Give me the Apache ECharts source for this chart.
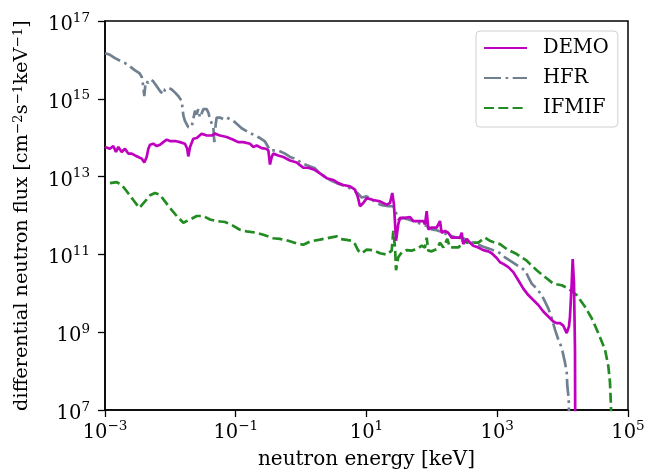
<!DOCTYPE html>
<html>
<head>
<meta charset="utf-8">
<script src="https://cdn.jsdelivr.net/npm/echarts@6/dist/echarts.min.js"></script>
<style>html,body{margin:0;padding:0;background:#fff}#c{width:663px;height:475px}</style>
</head>
<body>
<div id="c"></div>
<script>
const seriesNames = ['DEMO', 'HFR', 'IFMIF'];
const xTicks = [1e-3, 1e-1, 1e1, 1e3, 1e5];
const yTicks = [1e7, 1e9, 1e11, 1e13, 1e15, 1e17];

const demoE = [1e-3,1.19e-3,1.34e-3,1.47e-3,1.60e-3,1.80e-3,2.02e-3,2.27e-3,2.56e-3,2.88e-3,
  3.23e-3,3.64e-3,3.99e-3,4.34e-3,4.60e-3,4.88e-3,5.48e-3,6.18e-3,6.94e-3,7.79e-3,
  8.79e-3,9.87e-3,1.18e-2,1.40e-2,1.67e-2,1.81e-2,1.88e-2,2.00e-2,2.24e-2,2.53e-2,
  3.01e-2,3.59e-2,4.29e-2,4.82e-2,5.74e-2,7.27e-2,9.17e-2,0.109,0.130,0.165,
  0.186,0.209,0.249,0.290,0.315,0.334,0.355,0.375,0.447,0.534,
  0.676,0.855,0.961,1.08,1.29,1.63,1.94,2.46,3.10,3.70,
  4.42,5.59,6.67,7.33,7.95,8.93,10.07,12.7,16.1,20.4,
  22.9,24.8,26.3,28.3,30.6,32.5,38.8,46.3,52.0,62.0,
  73.9,78.5,83.3,88.2,99.4,118.5,133,141,159,178,
  201,226,269,286,302,341,383,430,513,612,
  730,823,981,1102,1237,1476,1760,2099,2503,2985,
  3559,4245,5061,6037,7199,8117,9119,10243,11547,12515,
  12959,13763,14256,14924,15458,15700];
const demoF = [5.8e13,5.2e13,6.1e13,4.3e13,5.8e13,4.3e13,5.2e13,3.9e13,3.9e13,3.5e13,
  3.2e13,2.9e13,2.3e13,3.2e13,5.2e13,6.6e13,7.0e13,6.1e13,6.6e13,7.7e13,
  8.9e13,8.2e13,8.2e13,7.7e13,7.0e13,5.2e13,3.3e13,5.8e13,9.4e13,9.8e13,
  1.26e14,1.14e14,1.14e14,1.26e14,1.14e14,1.04e14,8.9e13,7.7e13,7.7e13,7.0e13,
  5.8e13,6.3e13,5.4e13,5.2e13,4.7e13,2.05e13,3.2e13,3.9e13,3.5e13,3.2e13,
  2.6e13,2.3e13,1.97e13,1.69e13,1.69e13,1.47e13,1.21e13,9.1e12,8.2e12,6.8e12,
  6.1e12,5.6e12,4.6e12,3.1e12,1.73e12,2.1e12,2.8e12,2.5e12,2.3e12,1.90e12,
  2.1e12,3.8e12,1.90e12,2.24e11,5.9e11,8.7e11,8.7e11,9.1e11,7.2e11,7.2e11,
  7.2e11,5.9e11,1.29e12,4.4e11,4.9e11,4.9e11,7.2e11,3.6e11,4.0e11,3.6e11,
  2.7e11,2.7e11,2.7e11,3.6e11,1.84e11,2.5e11,2.0e11,1.67e11,1.51e11,1.29e11,
  1.20e11,1.07e11,8.1e10,6.3e10,5.7e10,4.7e10,3.5e10,2.16e10,1.32e10,9.0e9,
  6.7e9,5.0e9,3.4e9,2.53e9,1.89e9,1.71e9,1.71e9,1.47e9,9.5e8,1.41e9,
  2.53e9,1.77e10,7.6e10,1.77e10,3.6e8,1e5];

const hfrE = [1e-3,1.19e-3,1.42e-3,1.70e-3,2.02e-3,2.41e-3,2.88e-3,3.35e-3,3.64e-3,3.85e-3,
  3.99e-3,4.19e-3,4.60e-3,5.00e-3,5.48e-3,6.18e-3,6.94e-3,7.79e-3,8.27e-3,9.29e-3,
  1.05e-2,1.18e-2,1.32e-2,1.49e-2,1.58e-2,1.67e-2,1.88e-2,2.12e-2,2.24e-2,2.38e-2,
  2.53e-2,2.67e-2,2.84e-2,3.19e-2,3.59e-2,3.80e-2,4.04e-2,4.29e-2,4.54e-2,4.70e-2,
  4.94e-2,5.11e-2,5.74e-2,6.45e-2,7.27e-2,8.17e-2,9.74e-2,0.123,0.156,0.197,
  0.235,0.280,0.304,0.334,0.375,0.447,0.567,0.676,0.855,1.02,
  1.29,1.63,1.94,2.32,2.77,3.50,4.42,5.59,6.67,7.49,
  8.44,10.07,11.3,14.3,17.1,21.5,25.7,28.3,30.6,36.5,
  43.6,52.0,65.8,83.3,99.4,118.5,150,189,240,302,
  383,485,612,774,981,1102,1314,1567,1869,2228,
  2657,2985,3365,4013,4786,5375,6037,6806,7645,8586,
  9681,10870,11547,11790,12390,13200];
const hfrF = [1.49e16,1.35e16,1.11e16,9.5e15,8.3e15,6.8e15,5.4e15,4.6e15,3.7e15,2.1e15,
  1.18e15,2.8e15,2.6e15,3.1e15,2.8e15,2.1e15,1.58e15,1.30e15,1.74e15,1.92e15,
  1.74e15,1.44e15,1.18e15,8.8e14,3.7e14,2.7e14,1.86e14,1.92e14,3.0e14,4.9e14,
  4.0e14,5.4e14,3.3e14,5.4e14,5.4e14,4.5e14,3.0e14,2.7e14,1.86e14,7.7e13,
  2.25e14,3.3e14,3.3e14,3.0e14,3.3e14,3.0e14,2.5e14,1.75e14,1.39e14,1.14e14,
  9.8e13,8.0e13,6.3e13,4.7e13,4.7e13,4.7e13,3.9e13,3.2e13,2.8e13,2.18e13,
  1.90e13,1.63e13,1.21e13,1.0e13,8.2e12,6.8e12,5.9e12,5.0e12,4.2e12,3.6e12,
  2.9e12,3.1e12,2.8e12,2.1e12,1.84e12,1.73e12,1.73e12,1.17e12,7.9e11,8.7e11,
  7.9e11,7.2e11,6.2e11,5.4e11,4.4e11,4.2e11,3.6e11,3.0e11,2.7e11,2.6e11,
  2.15e11,1.84e11,1.58e11,1.37e11,1.20e11,1.07e11,8.4e10,6.9e10,5.7e10,4.7e10,
  3.9e10,2.62e10,1.77e10,1.32e10,9.0e9,6.1e9,4.1e9,2.29e9,1.16e9,6.5e8,
  4.0e8,1.65e8,9.2e7,4.2e7,1.95e7,1e5];

const ifmifE = [1.19e-3,1.51e-3,1.80e-3,2.15e-3,2.71e-3,3.35e-3,4.09e-3,4.88e-3,5.82e-3,6.94e-3,
  8.27e-3,9.87e-3,1.25e-2,1.58e-2,2.00e-2,2.53e-2,3.19e-2,4.04e-2,5.11e-2,6.85e-2,
  8.67e-2,0.116,0.147,0.209,0.264,0.375,0.475,0.637,0.855,1.08,
  1.37,1.94,2.77,3.50,3.93,4.69,5.94,6.67,7.49,8.44,
  10.07,12.7,16.1,20.4,24.3,25.7,27.3,28.3,30.6,34.5,
  41.2,49.1,58.6,69.9,78.5,83.3,88.2,99.4,118.5,133,
  150,172,189,213,254,286,302,341,407,513,
  649,774,924,1102,1395,1984,2821,4013,5375,7199,
  9681,12210,16420,22000,27850,35130,44460,49940,53040,54950,
  56000];
const ifmifF = [6.8e12,7.2e12,6.1e12,4.2e12,2.5e12,1.57e12,2.3e12,3.3e12,3.8e12,3.4e12,
  2.3e12,1.57e12,9.7e11,6.5e11,7.9e11,9.7e11,9.7e11,7.9e11,7.2e11,6.8e11,
  5.7e11,4.3e11,3.9e11,3.6e11,3.2e11,2.6e11,2.5e11,2.24e11,1.91e11,1.77e11,
  2.15e11,2.4e11,2.7e11,2.9e11,2.5e11,2.4e11,2.24e11,1.84e11,1.25e11,1.07e11,
  1.32e11,1.29e11,1.07e11,9.9e10,1.25e11,4.0e11,1.51e11,3.9e10,8.4e10,1.13e11,
  1.29e11,1.25e11,1.37e11,1.67e11,1.51e11,2.7e11,1.25e11,1.20e11,1.37e11,2.0e11,
  1.51e11,2.5e11,1.51e11,1.51e11,1.51e11,1.84e11,2.5e11,2.0e11,2.0e11,2.0e11,
  2.7e11,2.24e11,2.0e11,1.84e11,1.37e11,1.02e11,6.9e10,3.9e10,2.62e10,1.77e10,
  1.61e10,1.32e10,9.0e9,4.5e9,2.29e9,9.5e8,3.6e8,1.36e8,5.1e7,1.19e7,
  1e5];

const FONT = 'DejaVu Serif';
function pairs(xs, ys) { return xs.map((x, i) => [x, ys[i]]); }
function supLabel(v) {
  const e = Math.round(Math.log10(v));
  const s = String(e).replace('-', '\u2212');
  return '{b|10}{s|' + s + '}';
}
const rich = {
  b: { fontFamily: FONT, fontSize: 19.5, color: '#000', padding: [8, 0, 0, 0] },
  s: { fontFamily: FONT, fontSize: 13.5, color: '#000', padding: [0, 0, 6, 0] }
};
const nameRich = {
  n: { fontFamily: FONT, fontSize: 19.3, color: '#000' },
  s: { fontFamily: FONT, fontSize: 13.5, color: '#000', padding: [0, 0, 8, 0] }
};

const chart = echarts.init(document.getElementById('c'), null, { renderer: 'canvas' });
chart.setOption({
  animation: false,
  backgroundColor: '#fff',
  grid: { left: 105, right: 35, top: 21, bottom: 61, show: true, borderColor: '#000', borderWidth: 1.5, backgroundColor: 'transparent' },
  xAxis: {
    type: 'log', logBase: 10, min: 1e-3, max: 1e5,
    name: 'neutron energy [keV]', nameLocation: 'middle', nameGap: 40,
    nameTextStyle: { fontFamily: FONT, fontSize: 20, color: '#000' },
    axisLine: { show: true, lineStyle: { color: '#000', width: 1.5 } },
    axisTick: { show: true, length: 7, lineStyle: { color: '#000', width: 1.3 }, customValues: xTicks },
    axisLabel: { margin: 5, formatter: supLabel, rich: rich, customValues: xTicks },
    splitLine: { show: false }, minorTick: { show: false }
  },
  yAxis: {
    type: 'log', logBase: 10, min: 1e7, max: 1e17,
    name: '{n|differential neutron flux [cm}{s|\u22122}{n|s}{s|\u22121}{n|keV}{s|\u22121}{n|]}',
    nameLocation: 'middle', nameGap: 72,
    nameTextStyle: { fontFamily: FONT, fontSize: 19.3, color: '#000', rich: nameRich },
    axisLine: { show: true, lineStyle: { color: '#000', width: 1.5 } },
    axisTick: { show: true, length: 7, lineStyle: { color: '#000', width: 1.3 }, customValues: yTicks },
    axisLabel: { margin: 15, formatter: supLabel, rich: rich, customValues: yTicks },
    splitLine: { show: false }, minorTick: { show: false }
  },
  legend: {
    orient: 'vertical', left: 476, top: 31,
    padding: [7, 9, 9, 7], itemGap: 10, itemWidth: 43, itemHeight: 14,
    backgroundColor: '#fff', borderColor: '#d0d0d0', borderWidth: 1, borderRadius: 4,
    itemStyle: { color: 'transparent', borderColor: 'transparent', borderWidth: 0 },
    textStyle: { fontFamily: FONT, fontSize: 19.5, color: '#000', padding: [0, 0, 0, 11] },
    data: seriesNames
  },
  series: [
    { name: seriesNames[0], type: 'line', data: pairs(demoE, demoF), showSymbol: false, symbol: 'none',
      lineStyle: { color: '#BF00BF', width: 2.7 }, itemStyle: { color: '#BF00BF' }, clip: true, z: 4 },
    { name: seriesNames[1], type: 'line', data: pairs(hfrE, hfrF), showSymbol: false, symbol: 'none',
      lineStyle: { color: '#708090', width: 2.7, type: [17, 4.5, 2.7, 4.5] }, itemStyle: { color: '#708090' }, clip: true, z: 3 },
    { name: seriesNames[2], type: 'line', data: pairs(ifmifE, ifmifF), showSymbol: false, symbol: 'none',
      lineStyle: { color: '#228B22', width: 2.7, type: [10, 4.3] }, itemStyle: { color: '#228B22' }, clip: true, z: 2 }
  ]
});
</script>
</body>
</html>
